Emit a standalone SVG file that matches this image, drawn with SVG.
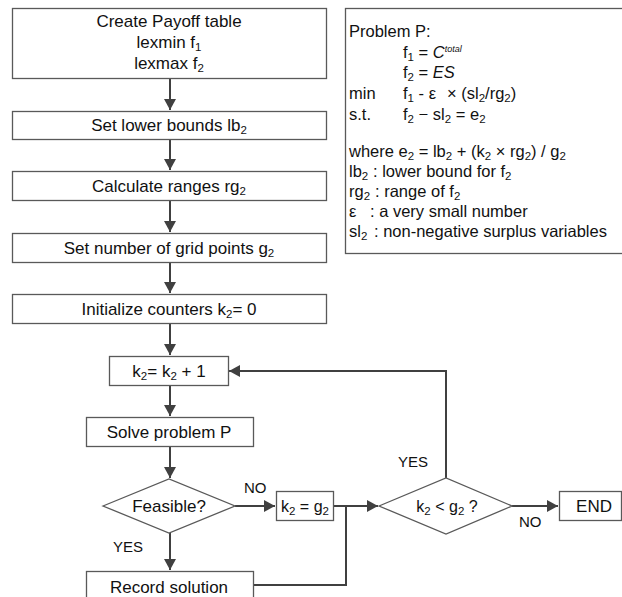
<svg xmlns="http://www.w3.org/2000/svg" width="622" height="597" viewBox="0 0 622 597">
<style>
text{font-family:"Liberation Sans",Arial,sans-serif;fill:#111}
.b{font-size:17px;text-anchor:middle}
.p{font-size:16.5px}
.l{font-size:15px}
.s{font-size:11.5px}
.box{fill:#fff;stroke:#595959;stroke-width:1.3}
.c{fill:none;stroke:#404040;stroke-width:2}
</style>
<defs>
<marker id="a" markerUnits="userSpaceOnUse" markerWidth="12" markerHeight="12" refX="11" refY="6" orient="auto">
<path d="M0,0 L11,6 L0,12 z" fill="#404040"/>
</marker>
</defs>
<rect width="622" height="597" fill="#fff"/>
<g id="connectors">
<path class="c" d="M170,78 V110" marker-end="url(#a)"/>
<path class="c" d="M170,139 V170" marker-end="url(#a)"/>
<path class="c" d="M170,201 V232" marker-end="url(#a)"/>
<path class="c" d="M170,262 V293" marker-end="url(#a)"/>
<path class="c" d="M170,324 V355" marker-end="url(#a)"/>
<path class="c" d="M170,385 V416" marker-end="url(#a)"/>
<path class="c" d="M170,447 V478" marker-end="url(#a)"/>
<path class="c" d="M170,533 V570" marker-end="url(#a)"/>
<path class="c" d="M235,506 H275" marker-end="url(#a)"/>
<path class="c" d="M333,506 H378" marker-end="url(#a)"/>
<path class="c" d="M253,585 H346 V506"/>
<path class="c" d="M446,478 V371 H229" marker-end="url(#a)"/>
<path class="c" d="M512,506 H558" marker-end="url(#a)"/>
</g>
<g id="payoff">
<rect class="box" x="12.5" y="8.5" width="314" height="70"/>
<text class="b" x="169" y="27">Create Payoff table</text>
<text class="b" x="169" y="48">lexmin  f<tspan class="s" baseline-shift="-3">1</tspan></text>
<text class="b" x="169" y="69">lexmax f<tspan class="s" baseline-shift="-3">2</tspan></text>
</g>
<g id="lower">
<rect class="box" x="12.5" y="111.5" width="314" height="28"/>
<text class="b" x="169" y="131">Set lower bounds lb<tspan class="s" baseline-shift="-3">2</tspan></text>
</g>
<g id="ranges">
<rect class="box" x="12.5" y="171.5" width="314" height="29"/>
<text class="b" x="169" y="192">Calculate ranges rg<tspan class="s" baseline-shift="-3">2</tspan></text>
</g>
<g id="grid">
<rect class="box" x="12.5" y="233.5" width="314" height="29"/>
<text class="b" x="169" y="254">Set number of grid points g<tspan class="s" baseline-shift="-3">2</tspan></text>
</g>
<g id="init">
<rect class="box" x="12.5" y="294.5" width="314" height="29"/>
<text class="b" x="169" y="315">Initialize counters k<tspan class="s" baseline-shift="-3">2</tspan>= 0</text>
</g>
<g id="incr">
<rect class="box" x="109.5" y="356.5" width="119" height="29"/>
<text class="b" x="169" y="377">k<tspan class="s" baseline-shift="-3">2</tspan>= k<tspan class="s" baseline-shift="-3">2</tspan> + 1</text>
</g>
<g id="solve">
<rect class="box" x="86.5" y="417.5" width="167" height="29"/>
<text class="b" x="169" y="438">Solve problem P</text>
</g>
<g id="feasible">
<polygon class="box" points="103,506 169,479 235,506 169,533"/>
<text class="b" x="169" y="512">Feasible?</text>
</g>
<g id="setk">
<rect class="box" x="276.5" y="491.5" width="57" height="29"/>
<text class="b" x="305" y="512" style="font-size:16px">k<tspan class="s" baseline-shift="-3">2</tspan> = g<tspan class="s" baseline-shift="-3">2</tspan></text>
</g>
<g id="check">
<polygon class="box" points="379,506 446,478 512,506 446,534"/>
<text class="b" x="447" y="512" style="font-size:16px">k<tspan class="s" baseline-shift="-3">2</tspan> &lt; g<tspan class="s" baseline-shift="-3">2</tspan> ?</text>
</g>
<g id="end">
<rect class="box" x="559.5" y="491.5" width="62" height="29"/>
<text class="b" x="594" y="512">END</text>
</g>
<g id="record">
<rect class="box" x="86.5" y="571.5" width="167" height="40"/>
<text class="b" x="169" y="593">Record solution</text>
</g>
<g id="labels">
<text class="l" x="244" y="493">NO</text>
<text class="l" x="113" y="552">YES</text>
<text class="l" x="398" y="467">YES</text>
<text class="l" x="519" y="527">NO</text>
</g>
<g id="problem">
<rect class="box" x="345.5" y="8.5" width="290" height="245"/>
<text class="p" x="349" y="37">Problem P:</text>
<text class="p" x="403" y="58">f<tspan class="s" baseline-shift="-3">1</tspan> = <tspan font-style="italic">C</tspan><tspan font-style="italic" font-size="9px" baseline-shift="6">total</tspan></text>
<text class="p" x="403" y="78">f<tspan class="s" baseline-shift="-3">2</tspan> = <tspan font-style="italic">ES</tspan></text>
<text class="p" x="349" y="99">min<tspan x="403">f</tspan><tspan class="s" baseline-shift="-3">1</tspan> - ε<tspan x="447">× (sl</tspan><tspan class="s" baseline-shift="-3">2</tspan>/rg<tspan class="s" baseline-shift="-3">2</tspan>)</text>
<text class="p" x="349" y="120">s.t.<tspan x="403">f</tspan><tspan class="s" baseline-shift="-3">2</tspan> − sl<tspan class="s" baseline-shift="-3">2</tspan> = e<tspan class="s" baseline-shift="-3">2</tspan></text>
<text class="p" x="349" y="157">where e<tspan class="s" baseline-shift="-3">2</tspan> = lb<tspan class="s" baseline-shift="-3">2</tspan> + (k<tspan class="s" baseline-shift="-3">2</tspan> × rg<tspan class="s" baseline-shift="-3">2</tspan>) / g<tspan class="s" baseline-shift="-3">2</tspan></text>
<text class="p" x="349" y="177">lb<tspan class="s" baseline-shift="-3">2</tspan><tspan x="373">: lower bound for f</tspan><tspan class="s" baseline-shift="-3">2</tspan></text>
<text class="p" x="349" y="197">rg<tspan class="s" baseline-shift="-3">2</tspan><tspan x="375">: range of f</tspan><tspan class="s" baseline-shift="-3">2</tspan></text>
<text class="p" x="349" y="217">ε<tspan x="370">: a very small number</tspan></text>
<text class="p" x="349" y="237">sl<tspan class="s" baseline-shift="-3">2</tspan><tspan x="374">: non-negative surplus variables</tspan></text>
</g>
</svg>
